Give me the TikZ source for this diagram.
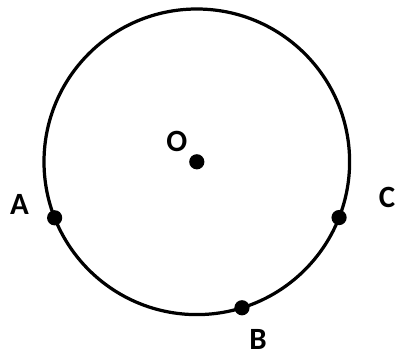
\documentclass[tikz,border=0pt]{standalone}
\usepackage{fontspec}
\setmainfont{Carlito}
\usetikzlibrary{positioning,calc}
\begin{document}
\begin{tikzpicture}[node distance=1cm]
        % Style Definitions
        \tikzstyle{pt} = [circle, fill=black, inner sep=0pt, minimum size=0.38cm]
        \tikzstyle{lbl} = [font=\fontsize{22}{26}\selectfont\bfseries, inner sep=0pt, on grid]

        \useasboundingbox (0,0) rectangle (9.875,8.975);

        % Circle
        \coordinate (centre) at (4.92,4.93);
        \draw[line width=2.3pt] (centre) circle (3.82);

        % Nodes
        \node (O) [pt] at (centre) {};
        \node (A) [pt] at ($(centre)+(201.5:3.82)$) {};
        \node (B) [pt] at ($(centre)+(287.2:3.82)$) {};
        \node (C) [pt] at ($(centre)+(338.6:3.82)$) {};

        % Labels
        \node (labO) [lbl, above left=0.5cm and 0.5cm of O] {O};
        \node (labA) [lbl, above left=0.33cm and 0.88cm of A] {A};
        \node (labB) [lbl, below right=0.8cm and 0.4cm of B] {B};
        \node (labC) [lbl, above right=0.5cm and 1.2cm of C] {C};

    \end{tikzpicture}
\end{document}
